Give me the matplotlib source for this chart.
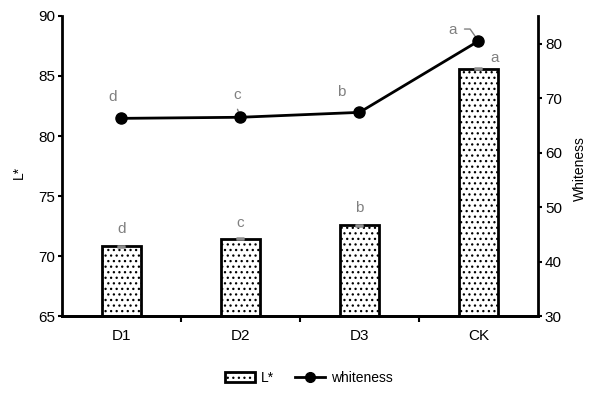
import matplotlib
matplotlib.use("Agg")
import matplotlib.pyplot as plt
from matplotlib.patches import Patch
from matplotlib.lines import Line2D

plt.rcParams['font.family'] = ['Liberation Sans Narrow', 'Liberation Sans', 'DejaVu Sans']
plt.rcParams['hatch.linewidth'] = 0.9

categories = ["D1", "D2", "D3", "CK"]
L_star = [70.8, 71.45, 72.55, 85.6]
L_err = [0.05, 0.05, 0.05, 0.05]
whiteness = [66.3, 66.5, 67.4, 80.5]
L_letters = ["d", "c", "b", "a"]
w_letters = ["d", "c", "b", "a"]

fig = plt.figure(figsize=(5.91, 3.93), dpi=100)
ax = fig.add_axes([0.1049, 0.1959, 0.8054, 0.7634])
ax2 = ax.twinx()

x = list(range(len(categories)))
ax.bar(x, [v - 65 for v in L_star], bottom=65, width=0.33, color='white',
       edgecolor='black', linewidth=2, hatch='...', zorder=2)
ax.errorbar(x, L_star, yerr=L_err, fmt='none', ecolor='#8c8c8c', capsize=3,
            elinewidth=1, capthick=1.8, zorder=3)
ax.set_ylim(65, 90)
ax.set_xlim(-0.5, 3.5)
ax.set_yticks([65, 70, 75, 80, 85, 90])
ax.set_xticks([0.5, 1.5, 2.5], minor=False)
ax.set_xticklabels([])
ax.set_xticks(x, minor=True)
ax.set_xticklabels(categories, minor=True)
ax.tick_params(axis='x', which='minor', length=0, pad=9, labelsize=11)
ax.tick_params(axis='x', which='major', length=4, width=1.5, direction='out')
ax.tick_params(axis='y', length=3, width=1.5, direction='out', labelsize=11, pad=2)
ax.set_ylabel("L*", fontsize=10)
ax.yaxis.set_label_coords(-0.075, 0.48)

ax2.plot(x, whiteness, color='black', linewidth=2, marker='o', markersize=8, zorder=4)
ax2.set_ylim(30, 85.1)
ax2.set_yticks([30, 40, 50, 60, 70, 80])
ax2.tick_params(axis='y', length=3, width=1.5, direction='out', labelsize=11, pad=2)
ax2.set_ylabel("Whiteness", fontsize=10, rotation=90)
ax2.yaxis.set_label_coords(1.074, 0.49)

for a in (ax, ax2):
    a.spines['top'].set_visible(False)
    for s in ('left', 'right', 'bottom'):
        a.spines[s].set_linewidth(2)
ax.spines['right'].set_visible(False)
ax2.spines['left'].set_visible(False)

gray = '#808080'
k = 0.72  # px -> points
# letters above bars
bar_offsets = [(0, 17), (0, 16), (0, 17), (16, 11)]
for i, (lt, (dx, dy)) in enumerate(zip(L_letters, bar_offsets)):
    ax.annotate(lt, (x[i], L_star[i]), xytext=(dx * k, dy * k), textcoords='offset points',
                ha='center', va='center', color=gray, fontsize=11)
# letters above line points
line_offsets = [(-9, 21), (-3, 22), (-18, 20), (-26, 11)]
for i, (lt, (dx, dy)) in enumerate(zip(w_letters, line_offsets)):
    ax2.annotate(lt, (x[i], whiteness[i]), xytext=(dx * k, dy * k), textcoords='offset points',
                 ha='center', va='center', color=gray, fontsize=11)
# leader lines
ax2.annotate('', (x[3], whiteness[3]), xytext=(-14 * k, 12 * k), textcoords='offset points',
             arrowprops=dict(arrowstyle='-', color=gray, lw=1,
                             connectionstyle='angle,angleA=0,angleB=125,rad=0', shrinkA=0, shrinkB=2))
ax2.annotate('', (x[1], whiteness[1]), xytext=(-3 * k, 8 * k), textcoords='offset points',
             arrowprops=dict(arrowstyle='-', color=gray, lw=1, shrinkA=0, shrinkB=3))

handles = [Patch(facecolor='white', edgecolor='black', hatch='...', linewidth=2),
           Line2D([], [], color='black', linewidth=2, marker='o', markersize=7)]
fig.legend(handles, ["L*", "whiteness"], loc='center', bbox_to_anchor=(0.522, 0.038),
           ncol=2, frameon=False, fontsize=10, handlelength=2.2, handletextpad=0.4,
           columnspacing=1.5)

fig.savefig("out.png", dpi=100)
